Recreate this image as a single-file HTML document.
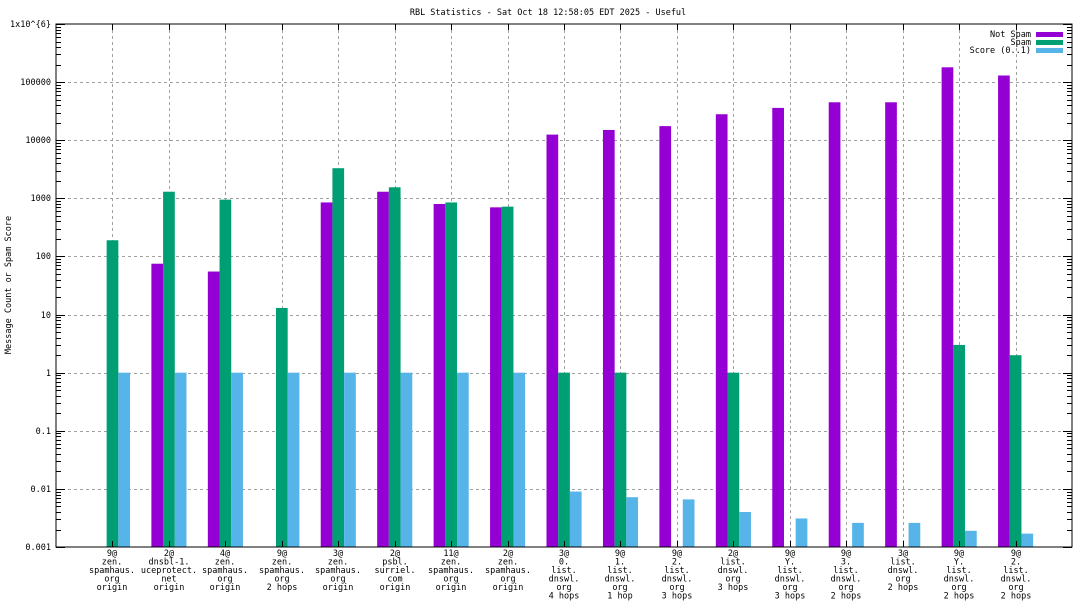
<!DOCTYPE html>
<html><head><meta charset="utf-8"><style>
html,body{margin:0;padding:0;background:#fff;}
svg{display:block;}
text{font-family:"DejaVu Sans Mono","Liberation Mono",monospace;font-size:8.5px;fill:#000;}
</style></head><body>
<svg id="s" width="1088" height="612" xmlns="http://www.w3.org/2000/svg">
<g id="grid"></g>
<g id="bars"></g>
<rect x="56" y="24" width="1016" height="523" fill="none" stroke="#000" stroke-width="1"/>
<g id="ticks"></g>
<text x="548" y="15" text-anchor="middle">RBL Statistics - Sat Oct 18 12:58:05 EDT 2025 - Useful</text>
<text transform="translate(11,285) rotate(-90)" text-anchor="middle">Message Count or Spam Score</text>
<g text-anchor="end">
<text x="51" y="27">1x10^{6}</text>
<text x="51" y="85">100000</text>
<text x="51" y="143">10000</text>
<text x="51" y="201">1000</text>
<text x="51" y="259">100</text>
<text x="51" y="318">10</text>
<text x="51" y="376">1</text>
<text x="51" y="434">0.1</text>
<text x="51" y="492">0.01</text>
<text x="51" y="550">0.001</text>
<text x="1031" y="37">Not Spam</text>
<text x="1031" y="45">Spam</text>
<text x="1031" y="53">Score (0..1)</text>
</g>
<rect x="1036" y="32" width="27" height="5" fill="#9400d3"/>
<rect x="1036" y="40" width="27" height="5" fill="#009e73"/>
<rect x="1036" y="48" width="27" height="5" fill="#56b4e9"/>
<g text-anchor="middle" id="labels">
<text y="556"><tspan x="112">9@</tspan><tspan x="112" dy="8.5">zen.</tspan><tspan x="112" dy="8.5">spamhaus.</tspan><tspan x="112" dy="8.5">org</tspan><tspan x="112" dy="8.5">origin</tspan></text>
<text y="556"><tspan x="169">2@</tspan><tspan x="169" dy="8.5">dnsbl-1.</tspan><tspan x="169" dy="8.5">uceprotect.</tspan><tspan x="169" dy="8.5">net</tspan><tspan x="169" dy="8.5">origin</tspan></text>
<text y="556"><tspan x="225">4@</tspan><tspan x="225" dy="8.5">zen.</tspan><tspan x="225" dy="8.5">spamhaus.</tspan><tspan x="225" dy="8.5">org</tspan><tspan x="225" dy="8.5">origin</tspan></text>
<text y="556"><tspan x="282">9@</tspan><tspan x="282" dy="8.5">zen.</tspan><tspan x="282" dy="8.5">spamhaus.</tspan><tspan x="282" dy="8.5">org</tspan><tspan x="282" dy="8.5">2 hops</tspan></text>
<text y="556"><tspan x="338">3@</tspan><tspan x="338" dy="8.5">zen.</tspan><tspan x="338" dy="8.5">spamhaus.</tspan><tspan x="338" dy="8.5">org</tspan><tspan x="338" dy="8.5">origin</tspan></text>
<text y="556"><tspan x="395">2@</tspan><tspan x="395" dy="8.5">psbl.</tspan><tspan x="395" dy="8.5">surriel.</tspan><tspan x="395" dy="8.5">com</tspan><tspan x="395" dy="8.5">origin</tspan></text>
<text y="556"><tspan x="451">11@</tspan><tspan x="451" dy="8.5">zen.</tspan><tspan x="451" dy="8.5">spamhaus.</tspan><tspan x="451" dy="8.5">org</tspan><tspan x="451" dy="8.5">origin</tspan></text>
<text y="556"><tspan x="508">2@</tspan><tspan x="508" dy="8.5">zen.</tspan><tspan x="508" dy="8.5">spamhaus.</tspan><tspan x="508" dy="8.5">org</tspan><tspan x="508" dy="8.5">origin</tspan></text>
<text y="556"><tspan x="564">3@</tspan><tspan x="564" dy="8.5">0.</tspan><tspan x="564" dy="8.5">list.</tspan><tspan x="564" dy="8.5">dnswl.</tspan><tspan x="564" dy="8.5">org</tspan><tspan x="564" dy="8.5">4 hops</tspan></text>
<text y="556"><tspan x="620">9@</tspan><tspan x="620" dy="8.5">1.</tspan><tspan x="620" dy="8.5">list.</tspan><tspan x="620" dy="8.5">dnswl.</tspan><tspan x="620" dy="8.5">org</tspan><tspan x="620" dy="8.5">1 hop</tspan></text>
<text y="556"><tspan x="677">9@</tspan><tspan x="677" dy="8.5">2.</tspan><tspan x="677" dy="8.5">list.</tspan><tspan x="677" dy="8.5">dnswl.</tspan><tspan x="677" dy="8.5">org</tspan><tspan x="677" dy="8.5">3 hops</tspan></text>
<text y="556"><tspan x="733">2@</tspan><tspan x="733" dy="8.5">list.</tspan><tspan x="733" dy="8.5">dnswl.</tspan><tspan x="733" dy="8.5">org</tspan><tspan x="733" dy="8.5">3 hops</tspan></text>
<text y="556"><tspan x="790">9@</tspan><tspan x="790" dy="8.5">Y.</tspan><tspan x="790" dy="8.5">list.</tspan><tspan x="790" dy="8.5">dnswl.</tspan><tspan x="790" dy="8.5">org</tspan><tspan x="790" dy="8.5">3 hops</tspan></text>
<text y="556"><tspan x="846">9@</tspan><tspan x="846" dy="8.5">3.</tspan><tspan x="846" dy="8.5">list.</tspan><tspan x="846" dy="8.5">dnswl.</tspan><tspan x="846" dy="8.5">org</tspan><tspan x="846" dy="8.5">2 hops</tspan></text>
<text y="556"><tspan x="903">3@</tspan><tspan x="903" dy="8.5">list.</tspan><tspan x="903" dy="8.5">dnswl.</tspan><tspan x="903" dy="8.5">org</tspan><tspan x="903" dy="8.5">2 hops</tspan></text>
<text y="556"><tspan x="959">9@</tspan><tspan x="959" dy="8.5">Y.</tspan><tspan x="959" dy="8.5">list.</tspan><tspan x="959" dy="8.5">dnswl.</tspan><tspan x="959" dy="8.5">org</tspan><tspan x="959" dy="8.5">2 hops</tspan></text>
<text y="556"><tspan x="1016">9@</tspan><tspan x="1016" dy="8.5">2.</tspan><tspan x="1016" dy="8.5">list.</tspan><tspan x="1016" dy="8.5">dnswl.</tspan><tspan x="1016" dy="8.5">org</tspan><tspan x="1016" dy="8.5">2 hops</tspan></text>
</g>
</svg>
<script>
var NS="http://www.w3.org/2000/svg";
function el(p,t,a){var e=document.createElementNS(NS,t);for(var k in a)e.setAttribute(k,a[k]);document.getElementById(p).appendChild(e);}
function Y(v){return 547-58.11*(Math.log10(v)+3);}
var W=1016/18;
for(var i=0;i<17;i++){var x=Math.round(56+W*(i+1))+0.5;
 el('grid','line',{x1:x,x2:x,y1:24,y2:547,stroke:'#a0a0a0','stroke-dasharray':'3,3'});
 el('ticks','line',{x1:x,x2:x,y1:547,y2:541,stroke:'#000'});
 el('ticks','line',{x1:x,x2:x,y1:24,y2:30,stroke:'#000'});}
for(var d=-3;d<=6;d++){var y=Math.round(Y(Math.pow(10,d)))+0.5;
 if(d>-3&&d<6)el('grid','line',{x1:56,x2:1072,y1:y,y2:y,stroke:'#a0a0a0','stroke-dasharray':'3,3'});
 el('ticks','line',{x1:56,x2:65,y1:y,y2:y,stroke:'#000'});
 el('ticks','line',{x1:1063,x2:1072,y1:y,y2:y,stroke:'#000'});
 if(d<6)for(var m=2;m<10;m++){var ym=Math.round(Y(m*Math.pow(10,d)))+0.5;
  el('ticks','line',{x1:56,x2:61,y1:ym,y2:ym,stroke:'#000'});
  el('ticks','line',{x1:1067,x2:1072,y1:ym,y2:ym,stroke:'#000'});}}
var D=[[0,190,1],[75,1300,1],[55,950,1],[0,13,1],[850,3300,1],[1300,1550,1],[800,850,1],[700,720,1],
[12500,1,0.009],[15000,1,0.0072],[17500,0,0.0066],[28000,1,0.004],[36000,0,0.0031],[45000,0,0.0026],[45000,0,0.0026],[180000,3,0.0019],[130000,2,0.0017]];
var C=['#9400d3','#009e73','#56b4e9'];
for(var i=0;i<17;i++){var c=56+W*(i+1);
 for(var j=0;j<3;j++){var v=D[i][j];if(!v)continue;var y=Y(v);
  el('bars','rect',{x:c-17.5+j*11.7,y:y,width:11.7,height:547-y,fill:C[j]});}}
</script>
</body></html>
